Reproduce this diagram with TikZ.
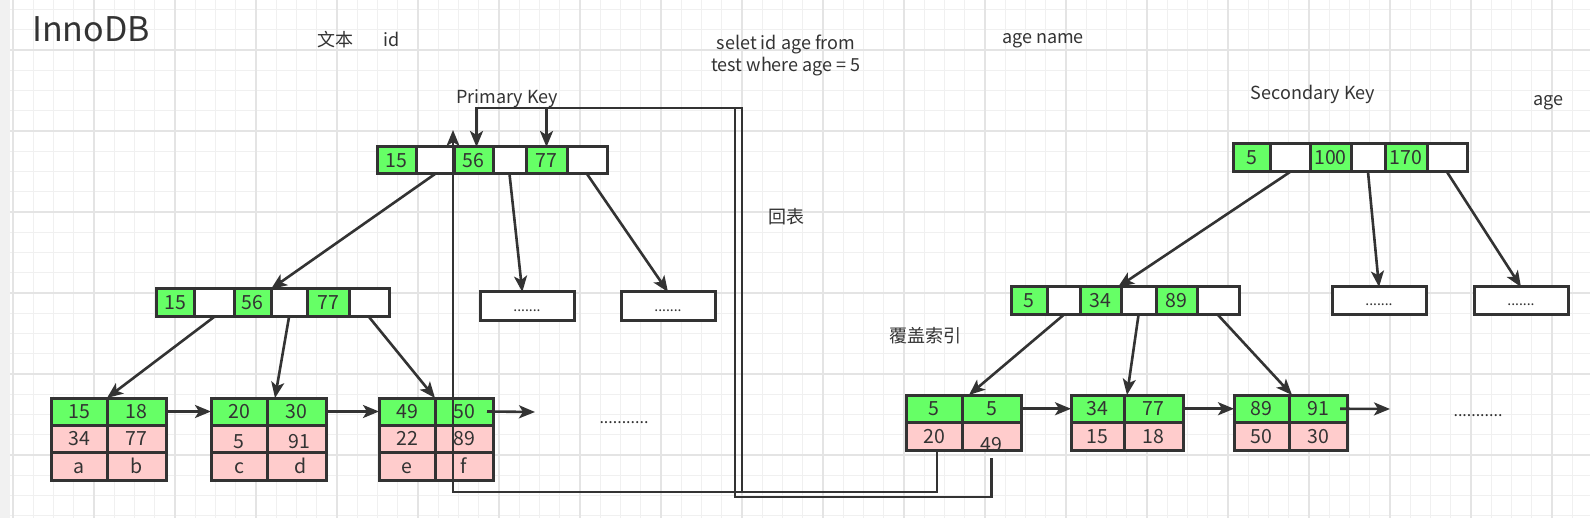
\documentclass[tikz,border=0pt]{standalone}
\usepackage{fontspec}
\setmainfont{Noto Sans CJK SC}
\usetikzlibrary{arrows.meta,calc}
\definecolor{ink}{HTML}{333333}
\definecolor{gfill}{HTML}{66FF66}
\definecolor{pfill}{HTML}{FFCCCC}
\definecolor{gridminor}{HTML}{F0F0F0}
\definecolor{gridmajor}{HTML}{E4E4E4}
\definecolor{stripgray}{HTML}{F1F1F1}
\newcommand{\cellnode}[7]{\node[#6, minimum width={(#4)-(#2)}, minimum height={(#5)-(#3)}, anchor=north west] (#1) at (#2,#3) {#7};}
\begin{document}
\begin{tikzpicture}[x=1pt, y=-1pt,
  cell/.style={draw=ink, line width=3pt, inner sep=0pt, outer sep=0pt, text=ink,
    font=\fontsize{19.5pt}{22pt}\selectfont, text height=14pt, text depth=0pt},
  gcell/.style={cell, fill=gfill},
  wcell/.style={cell, fill=white},
  pcell/.style={cell, fill=pfill},
  dotbox/.style={cell, fill=white, font=\fontsize{14pt}{16pt}\selectfont, text height=12pt, text depth=2pt},
  lbl/.style={text=ink, inner sep=0pt, anchor=base, font=\fontsize{18pt}{21pt}\selectfont},
  arr/.style={draw=ink, line width=2.6pt, -{Stealth[length=16pt,width=13pt,inset=4pt]}},
]
\useasboundingbox (0,0) rectangle (1590,518);
\fill[white] (0,0) rectangle (1590,518);
\fill[stripgray] (0,0) rectangle (10,518);
% grid
\foreach \i in {0,...,77} \draw[gridminor, line width=1pt] ({13+20.25*\i},0) -- ({13+20.25*\i},518);
\foreach \j in {-2,...,23} \draw[gridminor, line width=1pt] (10,{50+20.25*\j}) -- (1590,{50+20.25*\j});
\foreach \i in {0,...,19} \draw[gridmajor, line width=1.3pt] ({13+81*\i},0) -- ({13+81*\i},518);
\foreach \j in {0,...,5} \draw[gridmajor, line width=1.3pt] (10,{50+81*\j}) -- (1590,{50+81*\j});

% ---------- primary key tree ----------
\cellnode{pr1}{377}{147}{416}{174}{gcell}{15}
\cellnode{pr2}{416}{147}{454}{174}{wcell}{}
\cellnode{pr3}{454}{147}{493}{174}{gcell}{56}
\cellnode{pr4}{493}{147}{526}{174}{wcell}{}
\cellnode{pr5}{526}{147}{567}{174}{gcell}{77}
\cellnode{pr6}{567}{147}{607}{174}{wcell}{}

\cellnode{pm1}{156}{289}{194}{317}{gcell}{15}
\cellnode{pm2}{194}{289}{234}{317}{wcell}{}
\cellnode{pm3}{234}{289}{271}{317}{gcell}{56}
\cellnode{pm4}{271}{289}{307}{317}{wcell}{}
\cellnode{pm5}{307}{289}{349}{317}{gcell}{77}
\cellnode{pm6}{349}{289}{389}{317}{wcell}{}

\cellnode{pb1}{480}{292}{574}{321}{dotbox}{.......}
\cellnode{pb2}{621}{292}{715}{321}{dotbox}{.......}

\cellnode{l1g1}{51}{398}{107}{425}{gcell}{15}
\cellnode{l1g2}{107}{398}{166}{425}{gcell}{18}
\cellnode{l1p1}{51}{425}{107}{452.5}{pcell}{34}
\cellnode{l1p2}{107}{425}{166}{452.5}{pcell}{77}
\cellnode{l1q1}{51}{452.5}{107}{480}{pcell}{a}
\cellnode{l1q2}{107}{452.5}{166}{480}{pcell}{b}

\cellnode{l2g1}{211}{398}{267}{425}{gcell}{20}
\cellnode{l2g2}{267}{398}{326}{425}{gcell}{30}
\cellnode{l2p1}{211}{425}{267}{452.5}{pcell}{\raisebox{-3pt}{5}}
\cellnode{l2p2}{267}{425}{326}{452.5}{pcell}{\raisebox{-3pt}{\kern6pt 91}}
\cellnode{l2q1}{211}{452.5}{267}{480}{pcell}{c}
\cellnode{l2q2}{267}{452.5}{326}{480}{pcell}{\kern8pt d}

\cellnode{l3g1}{379}{398}{435}{425}{gcell}{49}
\cellnode{l3g2}{435}{398}{493}{425}{gcell}{50}
\cellnode{l3p1}{379}{425}{435}{452.5}{pcell}{22}
\cellnode{l3p2}{435}{425}{493}{452.5}{pcell}{89}
\cellnode{l3q1}{379}{452.5}{435}{480}{pcell}{e}
\cellnode{l3q2}{435}{452.5}{493}{480}{pcell}{f}

% ---------- secondary key tree ----------
\cellnode{sr1}{1233}{144}{1270}{172}{gcell}{5}
\cellnode{sr2}{1270}{144}{1310}{172}{wcell}{}
\cellnode{sr3}{1310}{144}{1351}{172}{gcell}{100}
\cellnode{sr4}{1351}{144}{1385}{172}{wcell}{}
\cellnode{sr5}{1385}{144}{1427}{172}{gcell}{170}
\cellnode{sr6}{1427}{144}{1467}{172}{wcell}{}

\cellnode{sm1}{1011}{287}{1047}{315}{gcell}{5}
\cellnode{sm2}{1047}{287}{1080}{315}{wcell}{}
\cellnode{sm3}{1080}{287}{1121}{315}{gcell}{34}
\cellnode{sm4}{1121}{287}{1156}{315}{wcell}{}
\cellnode{sm5}{1156}{287}{1197}{315}{gcell}{89}
\cellnode{sm6}{1197}{287}{1239}{315}{wcell}{}

\cellnode{sb1}{1332}{287}{1426}{315}{dotbox}{.......}
\cellnode{sb2}{1474}{287}{1568}{315}{dotbox}{.......}

\cellnode{s1g1}{906}{395}{962}{422.5}{gcell}{5}
\cellnode{s1g2}{962}{395}{1021}{422.5}{gcell}{5}
\cellnode{s1p1}{906}{422.5}{962}{450}{pcell}{20}
\cellnode{s1p2}{962}{422.5}{1021}{450}{pcell}{\raisebox{-8pt}{49}}

\cellnode{s2g1}{1071}{395}{1124}{422.5}{gcell}{34}
\cellnode{s2g2}{1124}{395}{1183}{422.5}{gcell}{77}
\cellnode{s2p1}{1071}{422.5}{1124}{450}{pcell}{15}
\cellnode{s2p2}{1124}{422.5}{1183}{450}{pcell}{18}

\cellnode{s3g1}{1234}{395}{1289}{422.5}{gcell}{89}
\cellnode{s3g2}{1289}{395}{1347}{422.5}{gcell}{91}
\cellnode{s3p1}{1234}{422.5}{1289}{450}{pcell}{50}
\cellnode{s3p2}{1289}{422.5}{1347}{450}{pcell}{30}

% ---------- free ends ----------
\coordinate (pnext) at (535,412);
\coordinate (snext) at (1390,409);
\coordinate (upTip) at ($(pr2.north east)+(-1,-17)$);

% ---------- connectors: primary ----------
\draw[arr] (pr2.south) -- (pm3.north east);
\draw[arr] (pr4.south) -- ($(pb1.north west)!0.45!(pb1.north east)$);
\draw[arr] (pr6.south) -- (pb2.north);
\draw[arr] (pm2.south) -- (l1g1.north east);
\draw[arr] (pm4.south) -- ($(l2g2.north west)+(8,0)$);
\draw[arr] (pm6.south) -- (l3g1.north east);
\draw[arr] (l1g2.east) -- (l2g1.west);
\draw[arr] (l2g2.east) -- (l3g1.west);
\draw[arr] ($(l3g2.east)+(-6,0)$) -- (pnext);

% ---------- connectors: secondary ----------
\draw[arr] (sr2.south) -- ($(sm3.north east)+(-3,0)$);
\draw[arr] (sr4.south) -- (sb1.north);
\draw[arr] (sr6.south) -- (sb2.north);
\draw[arr] (sm2.south) -- ($(s1g2.north west)+(7,0)$);
\draw[arr] (sm4.south) -- ($(s2g1.north east)+(3,0)$);
\draw[arr] (sm6.south) -- ($(s3g1.north east)+(3,0)$);
\draw[arr] (s1g2.east) -- (s2g1.west);
\draw[arr] (s2g2.east) -- (s3g1.west);
\draw[arr] ($(s3g2.east)+(-7,0)$) -- (snext);

% ---------- back-to-table connectors ----------
\draw[arr] ($(s1p1.south)+(3,0)$) -- ++(0,42) -| (upTip);
\draw[arr] ($(s1p1.south)+(3,0)$) -- ++(0,42) -- (742,492) -- (742,108) -| (pr5.north);
\draw[arr] ($(s1p2.south)+(0,8)$) -- ++(0,39) -- (735,497) -- (735,108) -| ($(pr3.north)+(3,0)$);

% ---------- labels ----------
\node[lbl, font=\fontsize{34pt}{40pt}\selectfont] (title) at (91,42) {InnoDB};
\node[lbl] (wenben) at (335,47) {文本};
\node[lbl] (idlbl) at (392,47) {id};
\node[lbl] (sql1) at (786,50) {selet id age from};
\node[lbl] (sql2) at (786,72) {test where age = 5};
\node[lbl] (agename) at (1043,44) {age name};
\node[lbl] (pklbl) at (507,104) {Primary Key};
\node[lbl] (sklbl) at (1313,100) {Secondary Key};
\node[lbl] (agelbl) at (1548,106) {age};
\node[lbl] (huibiao) at (786,224) {回表};
\node[lbl] (fugai) at (925,343) {覆盖索引};
\node[lbl, font=\fontsize{16pt}{18pt}\selectfont] (pdots) at (624,423) {...........};
\node[lbl, font=\fontsize{16pt}{18pt}\selectfont] (sdots) at (1478,416) {...........};
\end{tikzpicture}
\end{document}
